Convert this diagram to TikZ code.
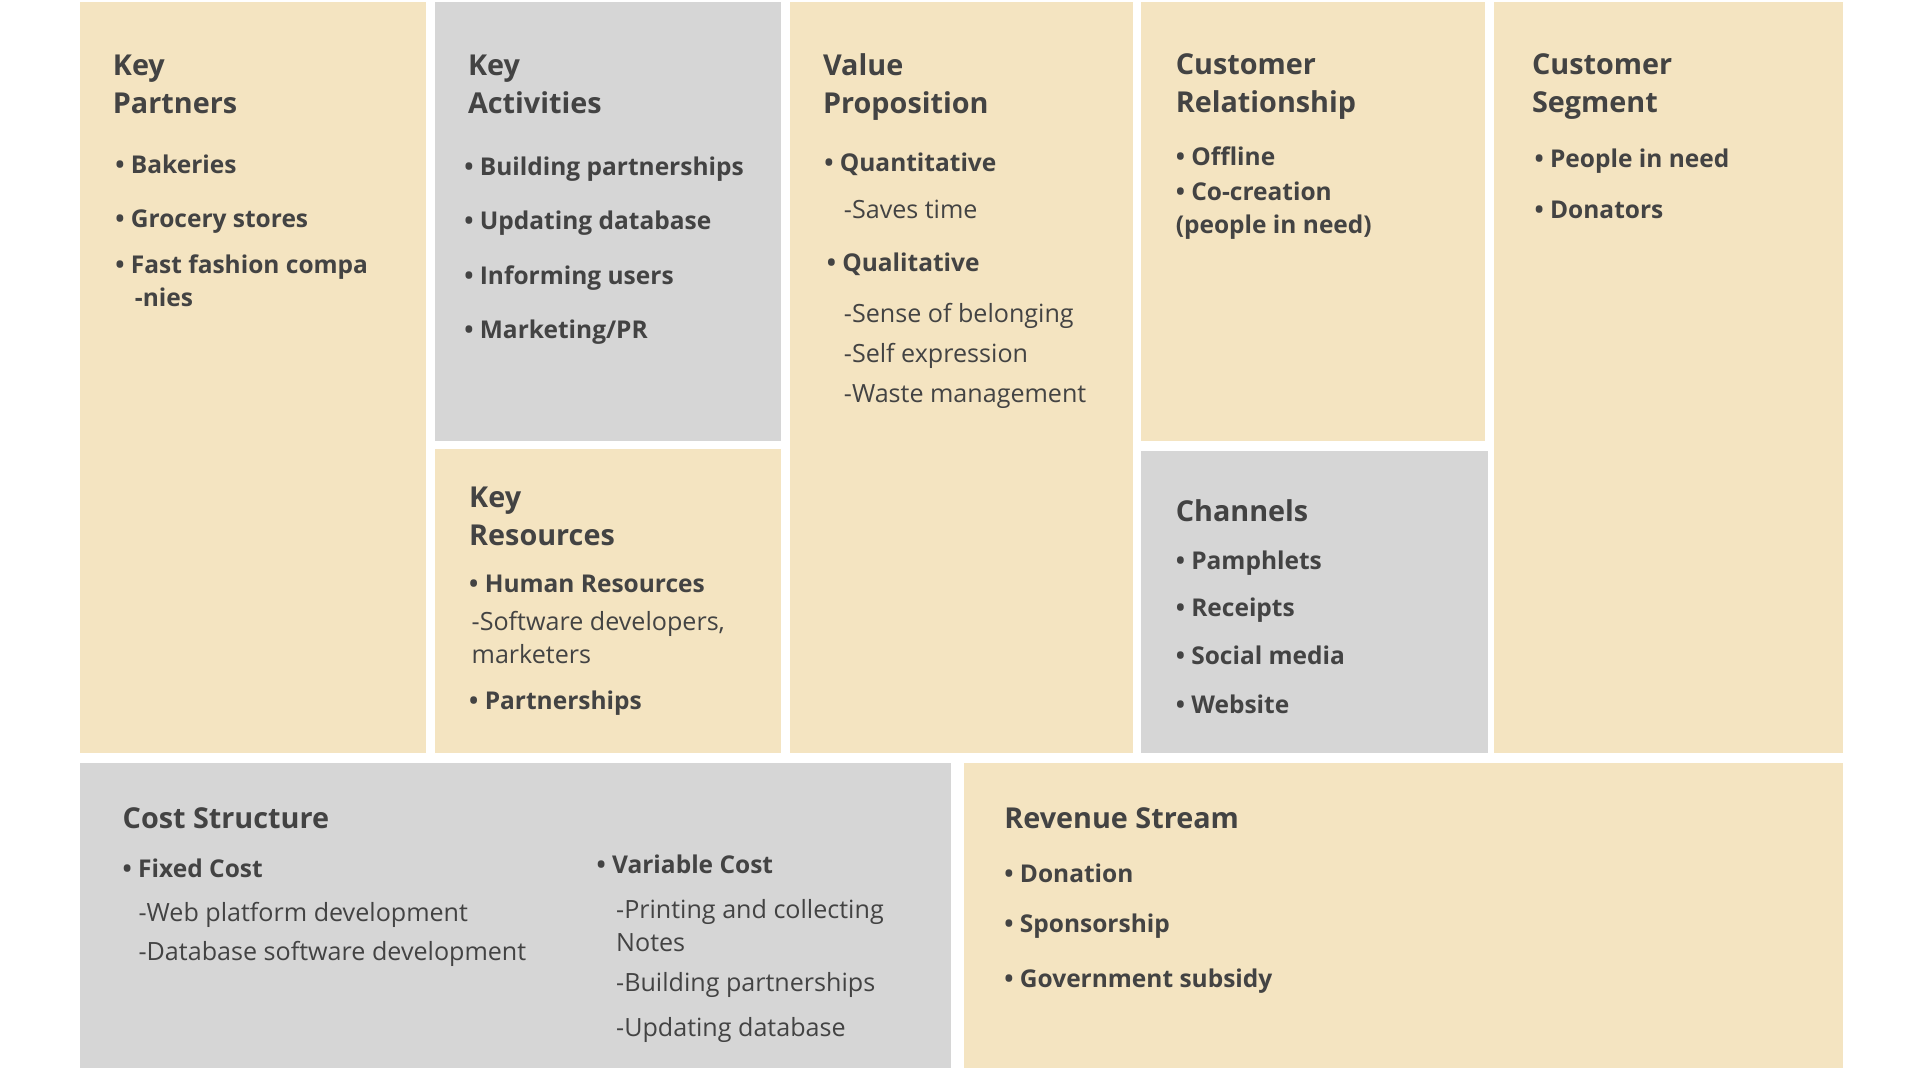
\documentclass[tikz,border=0pt]{standalone}
\usepackage{fontspec}
\setmainfont{Open Sans}
\definecolor{beige}{HTML}{F4E4C1}
\definecolor{grayb}{HTML}{D6D6D6}
\definecolor{txt}{HTML}{434343}
\begin{document}
\begin{tikzpicture}[x=1pt,y=-1pt,
  ttl/.style={anchor=west,align=left,font=\fontsize{23.5}{31}\selectfont\bfseries,text=txt,inner sep=0},
  itm/.style={anchor=west,align=left,font=\fontsize{20}{27}\selectfont\fontseries{sb}\selectfont,text=txt,inner sep=0},
  sub/.style={anchor=west,align=left,font=\fontsize{20.5}{27}\selectfont,text=txt,inner sep=0}]
\useasboundingbox (0,0) rectangle (1568,882);
\fill[white] (0,0) rectangle (1568,882);
\fill[beige] (65,2) rectangle (348,615);
\fill[grayb] (355,2) rectangle (638,360);
\fill[beige] (355,367) rectangle (638,615);
\fill[beige] (645,2) rectangle (925,615);
\fill[beige] (932,2) rectangle (1213,360);
\fill[grayb] (932,368) rectangle (1215,615);
\fill[beige] (1220,2) rectangle (1505,615);
\fill[grayb] (65,623) rectangle (777,872);
\fill[beige] (787,623) rectangle (1505,872);
% Key partners
\node[ttl] (kpt) at (92,69) {Key\\Partners};
\node[itm] (kp1) at (94,134) {• Bakeries};
\node[itm] (kp2) at (94,181) {• Grocery stores};
\node[itm] (kp3) at (94,229) {• Fast fashion compa\\\hspace*{16pt}-nies};
% Key activities
\node[ttl] (kat) at (382,69) {Key\\Activities};
\node[itm] (ka1) at (379,138) {• Building partnerships};
\node[itm] (ka2) at (379,182) {• Updating database};
\node[itm] (ka3) at (379,227) {• Informing users};
\node[itm] (ka4) at (379,271) {• Marketing/PR};
% Key resources
\node[ttl] (krt) at (383,422) {Key\\Resources};
\node[itm] (kr1) at (383,477) {• Human Resources};
\node[sub] (kr2) at (385,521) {-Software developers,\\marketers};
\node[itm] (kr3) at (383,574) {• Partnerships};
% Value proposition
\node[ttl] (vpt) at (672,71) {Value\\Proposition};
\node[itm] (vp1) at (673,134) {• Quantitative};
\node[sub] (vp2) at (689,171) {-Saves time};
\node[itm] (vp3) at (675,216) {• Qualitative};
\node[sub] (vp4) at (689,258) {-Sense of belonging};
\node[sub] (vp5) at (689,291) {-Self expression};
\node[sub] (vp6) at (689,324) {-Waste management};
% Customer relationship
\node[ttl] (crt) at (960,71) {Customer\\Relationship};
\node[itm] (cr1) at (960,128) {• Offline};
\node[itm] (cr2) at (960,172) {• Co-creation\\(people in need)};
% Channels
\node[ttl] (cht) at (960,417) {Channels};
\node[itm] (ch1) at (960,460) {• Pamphlets};
\node[itm] (ch2) at (960,498) {• Receipts};
\node[itm] (ch3) at (960,535) {• Social media};
\node[itm] (ch4) at (960,575) {• Website};
% Customer segment
\node[ttl] (cst) at (1251,71) {Customer\\Segment};
\node[itm] (cs1) at (1253,132) {• People in need};
\node[itm] (cs2) at (1253,171) {• Donators};
% Cost structure
\node[ttl] (cot) at (100,668) {Cost Structure};
\node[itm] (co1) at (100,709) {• Fixed Cost};
\node[sub] (co2) at (113,747) {-Web platform development};
\node[sub] (co3) at (113,779) {-Database software development};
\node[itm] (co4) at (487,706) {• Variable Cost};
\node[sub] (co5) at (503,756) {-Printing and collecting\\Notes};
\node[sub] (co6) at (503,804) {-Building partnerships};
\node[sub] (co7) at (503,841) {-Updating database};
% Revenue
\node[ttl] (rvt) at (820,668) {Revenue Stream};
\node[itm] (rv1) at (820,713) {• Donation};
\node[itm] (rv2) at (820,756) {• Sponsorship};
\node[itm] (rv3) at (820,801) {• Government subsidy};
\end{tikzpicture}
\end{document}
